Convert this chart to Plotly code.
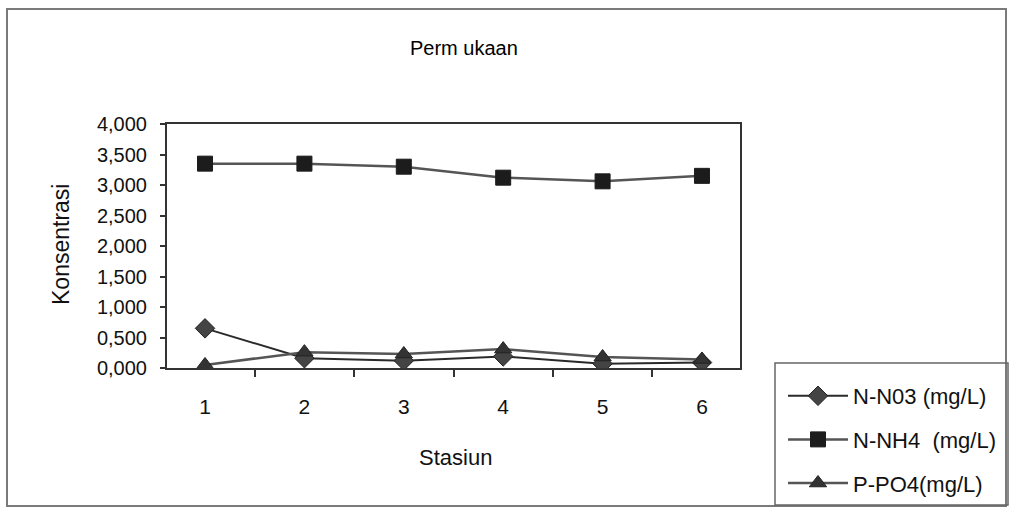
import plotly.graph_objects as go

# Stations and nutrient concentrations at the surface (mg/L)
stasiun = ["1", "2", "3", "4", "5", "6"]
n_no3 = [0.65, 0.16, 0.12, 0.19, 0.07, 0.09]
n_nh4 = [3.35, 3.35, 3.30, 3.12, 3.06, 3.15]
p_po4 = [0.05, 0.26, 0.23, 0.31, 0.18, 0.14]

series_names = ["N-N03 (mg/L)", "N-NH4  (mg/L)", "P-PO4(mg/L)"]
y_ticks = [0, 0.5, 1.0, 1.5, 2.0, 2.5, 3.0, 3.5, 4.0]

FONT = "Liberation Sans, Arial, sans-serif"

# page geometry (pixels)
W, H = 1012, 508
L, R, T, B = 167, 740, 124, 368


def px_x(x):
    return (x - L) / (R - L)


def px_y(y):
    return (B - y) / (B - T)


fig = go.Figure()

fig.add_trace(go.Scatter(
    x=stasiun, y=n_no3, name=series_names[0], legendgroup="a",
    mode="lines+markers",
    line=dict(color="#2a2a2a", width=2),
    marker=dict(symbol="diamond", size=15, color="#444444",
                line=dict(color="#222222", width=1)),
))
fig.add_trace(go.Scatter(
    x=stasiun, y=n_nh4, name=series_names[1], legendgroup="b",
    mode="lines+markers",
    line=dict(color="#555555", width=2.5),
    marker=dict(symbol="square", size=15, color="#1c1c1c",
                line=dict(color="#1c1c1c", width=1)),
))
fig.add_trace(go.Scatter(
    x=stasiun, y=p_po4, name=series_names[2], legendgroup="c",
    mode="lines+markers",
    line=dict(color="#555555", width=2.5),
    marker=dict(symbol="triangle-up", size=15, color="#333333",
                line=dict(color="#222222", width=1)),
))

shapes = [
    # outer chart frame
    dict(type="rect", xref="paper", yref="paper",
         x0=px_x(7), x1=px_x(1006), y0=px_y(506), y1=px_y(9),
         line=dict(color="#7a7a7a", width=2), layer="below"),
    # legend frame
    dict(type="rect", xref="paper", yref="paper",
         x0=px_x(775), x1=px_x(1008), y0=px_y(505), y1=px_y(363),
         line=dict(color="#666666", width=1.5), layer="below"),
]

annotations = [
    dict(text="Perm ukaan", xref="paper", yref="paper",
         x=px_x(464), y=px_y(48), xanchor="center", yanchor="middle",
         showarrow=False,
         font=dict(family=FONT, size=20, color="#000000")),
    dict(text="Konsentrasi", xref="paper", yref="paper",
         x=px_x(61), y=px_y(245), xanchor="center", yanchor="middle",
         showarrow=False, textangle=-90,
         font=dict(family=FONT, size=23, color="#111111")),
    dict(text="Stasiun", xref="paper", yref="paper",
         x=px_x(455), y=px_y(457), xanchor="center", yanchor="middle",
         showarrow=False,
         font=dict(family=FONT, size=22, color="#111111")),
]

fig.update_layout(
    width=W, height=H,
    margin=dict(l=L, r=W - R, t=T, b=H - B, pad=0),
    paper_bgcolor="white", plot_bgcolor="white",
    separators=",.",
    font=dict(family=FONT, size=20, color="#111111"),
    showlegend=True,
    legend=dict(
        xref="container", yref="container",
        x=783 / W, y=1 - 375 / H, xanchor="left", yanchor="top",
        bgcolor="rgba(0,0,0,0)", borderwidth=0,
        font=dict(family=FONT, size=22, color="#111111"),
        tracegroupgap=12, itemwidth=60,
    ),
    shapes=shapes,
    annotations=annotations,
)

fig.update_xaxes(
    type="category", tickson="boundaries",
    showline=True, linecolor="#333333", linewidth=2, mirror=True,
    ticks="outside", ticklen=7, tickcolor="#333333", tickwidth=1.5,
    ticklabelstandoff=19,
    showgrid=False, zeroline=False,
    tickfont=dict(family=FONT, size=21, color="#111111"),
)
fig.update_yaxes(
    range=[0, 4], tickvals=y_ticks, tickformat=".3f",
    showline=True, linecolor="#333333", linewidth=2, mirror=True,
    ticks="outside", ticklen=5, tickcolor="#333333", tickwidth=1.5,
    ticklabelstandoff=9,
    showgrid=False, zeroline=False,
    tickfont=dict(family=FONT, size=20, color="#111111"),
)

fig.write_html("out.html")
